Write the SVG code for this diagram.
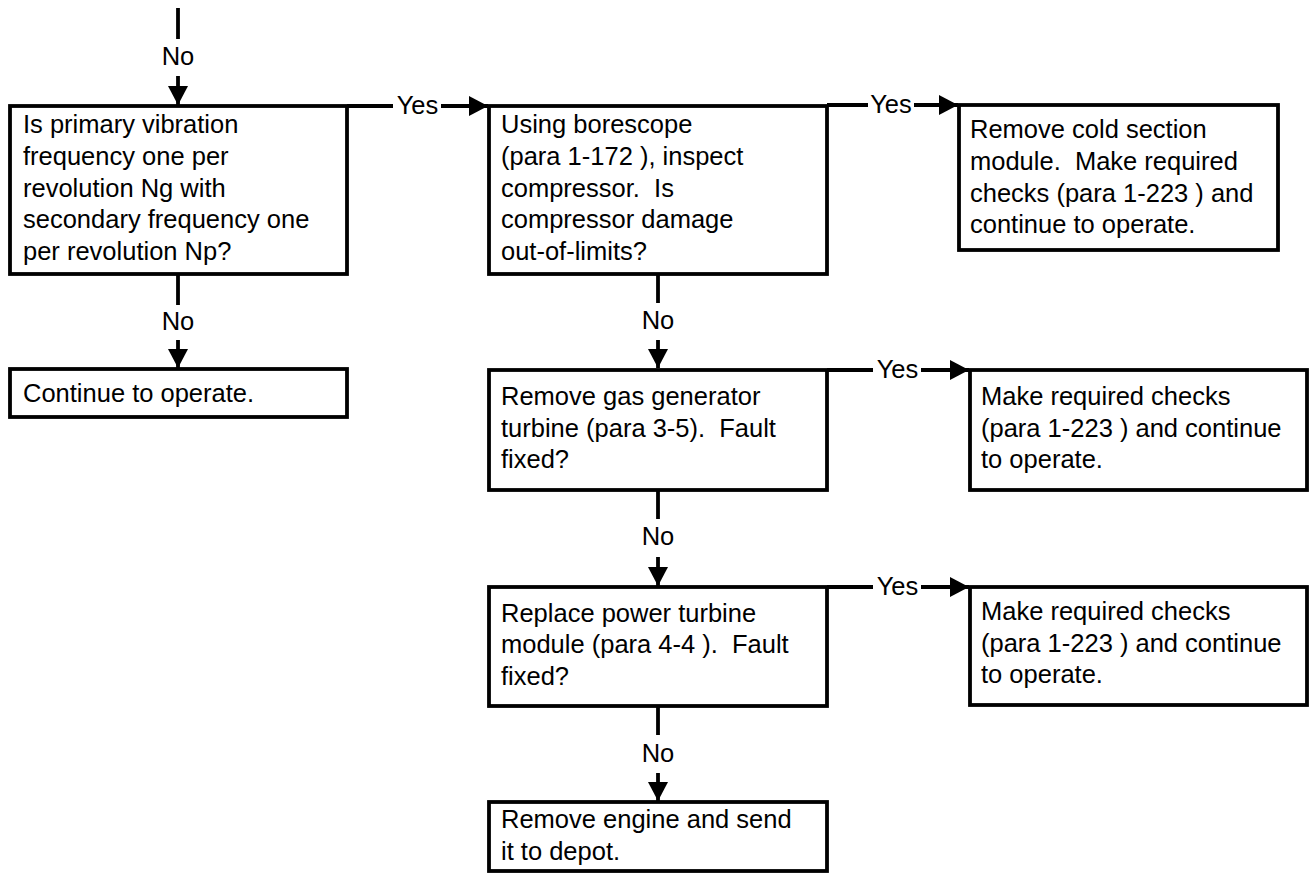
<svg xmlns="http://www.w3.org/2000/svg" width="1310" height="874" viewBox="0 0 1310 874">
  <style>
    .box { fill: #fff; stroke: #000; stroke-width: 3.8; }
    .wire { fill: none; stroke: #000; stroke-width: 3.8; }
    .txt { font-family: "Liberation Sans", Arial, sans-serif; font-size: 25.5px; fill: #000; white-space: pre; }
    .lbl { font-family: "Liberation Sans", Arial, sans-serif; font-size: 25.5px; fill: #000; text-anchor: middle; }
  </style>
  <defs>
    <marker id="arrow" markerUnits="userSpaceOnUse" markerWidth="20" markerHeight="22" viewBox="0 0 20 22" refX="19" refY="11" orient="auto">
      <path d="M0,1 L19,11 L0,21 Z" fill="#000"/>
    </marker>
  </defs>
  <rect width="1310" height="874" fill="#fff"/>

  <!-- connectors -->
  <g id="connectors">
    <!-- entry -->
    <path class="wire" d="M178,8 V39"/>
    <text class="lbl" x="178" y="65">No</text>
    <path class="wire" d="M178,76 V105" marker-end="url(#arrow)"/>
    <!-- q1 yes -> q2 -->
    <path class="wire" d="M347,106 H393"/>
    <text class="lbl" x="417.5" y="114">Yes</text>
    <path class="wire" d="M441,106 H488" marker-end="url(#arrow)"/>
    <!-- q1 no -> continue -->
    <path class="wire" d="M178,274 V305"/>
    <text class="lbl" x="178" y="330">No</text>
    <path class="wire" d="M178,340 V368" marker-end="url(#arrow)"/>
    <!-- q2 yes -> remove cold section -->
    <path class="wire" d="M827,105 H868"/>
    <text class="lbl" x="891" y="113">Yes</text>
    <path class="wire" d="M914,105 H958" marker-end="url(#arrow)"/>
    <!-- q2 no -> q3 -->
    <path class="wire" d="M658,274 V303"/>
    <text class="lbl" x="658" y="329">No</text>
    <path class="wire" d="M658,340 V368" marker-end="url(#arrow)"/>
    <!-- q3 yes -> checks -->
    <path class="wire" d="M827,370 H873"/>
    <text class="lbl" x="897.5" y="378">Yes</text>
    <path class="wire" d="M921,370 H969" marker-end="url(#arrow)"/>
    <!-- q3 no -> q4 -->
    <path class="wire" d="M658,490 V519"/>
    <text class="lbl" x="658" y="545">No</text>
    <path class="wire" d="M658,557 V586" marker-end="url(#arrow)"/>
    <!-- q4 yes -> checks -->
    <path class="wire" d="M827,587 H873"/>
    <text class="lbl" x="897.5" y="595">Yes</text>
    <path class="wire" d="M921,587 H969" marker-end="url(#arrow)"/>
    <!-- q4 no -> remove engine -->
    <path class="wire" d="M658,706 V735"/>
    <text class="lbl" x="658" y="762">No</text>
    <path class="wire" d="M658,773 V801" marker-end="url(#arrow)"/>
  </g>

  <g id="q-vibration">
    <rect class="box" x="10" y="106" width="337" height="168"/>
    <text class="txt" x="23" y="133">Is primary vibration</text>
    <text class="txt" x="23" y="165">frequency one per</text>
    <text class="txt" x="23" y="197">revolution Ng with</text>
    <text class="txt" x="23" y="228">secondary frequency one</text>
    <text class="txt" x="23" y="260">per revolution Np?</text>
  </g>

  <g id="continue-operate">
    <rect class="box" x="10" y="369" width="337" height="48"/>
    <text class="txt" x="23" y="402">Continue to operate.</text>
  </g>

  <g id="q-borescope">
    <rect class="box" x="489" y="106" width="338" height="168"/>
    <text class="txt" x="501" y="133">Using borescope</text>
    <text class="txt" x="501" y="165">(para 1-172 ), inspect</text>
    <text class="txt" x="501" y="197">compressor.  Is</text>
    <text class="txt" x="501" y="228">compressor damage</text>
    <text class="txt" x="501" y="260">out-of-limits?</text>
  </g>

  <g id="remove-cold-section">
    <rect class="box" x="959" y="105" width="319" height="145"/>
    <text class="txt" x="970" y="138">Remove cold section</text>
    <text class="txt" x="970" y="170">module.  Make required</text>
    <text class="txt" x="970" y="202">checks (para 1-223 ) and</text>
    <text class="txt" x="970" y="233">continue to operate.</text>
  </g>

  <g id="q-gas-generator">
    <rect class="box" x="489" y="370" width="338" height="120"/>
    <text class="txt" x="501" y="405">Remove gas generator</text>
    <text class="txt" x="501" y="437">turbine (para 3-5).  Fault</text>
    <text class="txt" x="501" y="468">fixed?</text>
  </g>

  <g id="checks-1">
    <rect class="box" x="970" y="370" width="337" height="120"/>
    <text class="txt" x="981" y="405">Make required checks</text>
    <text class="txt" x="981" y="437">(para 1-223 ) and continue</text>
    <text class="txt" x="981" y="468">to operate.</text>
  </g>

  <g id="q-power-turbine">
    <rect class="box" x="489" y="587" width="338" height="119"/>
    <text class="txt" x="501" y="622">Replace power turbine</text>
    <text class="txt" x="501" y="653">module (para 4-4 ).  Fault</text>
    <text class="txt" x="501" y="685">fixed?</text>
  </g>

  <g id="checks-2">
    <rect class="box" x="970" y="587" width="337" height="118"/>
    <text class="txt" x="981" y="620">Make required checks</text>
    <text class="txt" x="981" y="652">(para 1-223 ) and continue</text>
    <text class="txt" x="981" y="683">to operate.</text>
  </g>

  <g id="remove-engine">
    <rect class="box" x="489" y="802" width="338" height="69"/>
    <text class="txt" x="501" y="828">Remove engine and send</text>
    <text class="txt" x="501" y="860">it to depot.</text>
  </g>
</svg>
